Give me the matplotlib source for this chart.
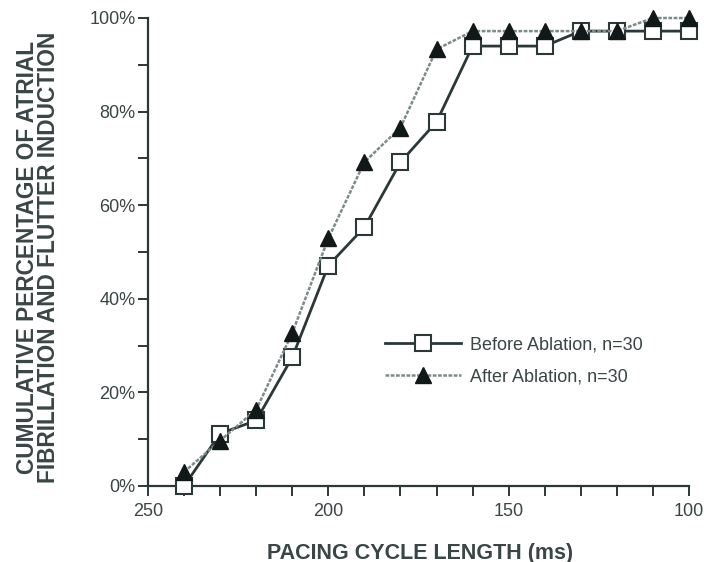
import matplotlib
matplotlib.use("Agg")
import matplotlib.pyplot as plt
from matplotlib.ticker import MultipleLocator, FuncFormatter

cycle_length = [240, 230, 220, 210, 200, 190, 180, 170, 160, 150, 140, 130, 120, 110, 100]
before_pct = [0, 11.2, 14.0, 27.5, 47.1, 55.3, 69.2, 77.8, 94.0, 94.0, 94.0, 97.2, 97.2, 97.2, 97.2]
after_pct = [3.0, 9.7, 16.3, 32.7, 52.9, 69.2, 76.6, 93.3, 97.2, 97.2, 97.2, 97.2, 97.2, 100, 100]

before_label = "Before Ablation, n=30"
after_label = "After Ablation, n=30"
x_label = "PACING CYCLE LENGTH (ms)"
y_label = "CUMULATIVE PERCENTAGE OF ATRIAL\nFIBRILLATION AND FLUTTER INDUCTION"

ink = "#2c3838"
plt.rcParams['font.family'] = ['Liberation Sans', 'DejaVu Sans']

fig = plt.figure(figsize=(7.04, 5.62), dpi=100)
ax = fig.add_axes([148/704, 1 - 486/562, (689-148)/704, (486-18)/562])

ax.plot(cycle_length, before_pct, color=ink, lw=2.0, marker='s', markersize=11.5,
        markerfacecolor='white', markeredgecolor=ink, markeredgewidth=1.5,
        label=before_label, clip_on=False, zorder=3)
ax.plot(cycle_length, after_pct, color='#7f8a8a', lw=1.8, ls=(0, (1.5, 0.6)), marker='^',
        markersize=11, markerfacecolor='#111818', markeredgecolor='#111818',
        label=after_label, clip_on=False, zorder=4)

ax.set_xlim(250, 100)
ax.set_ylim(0, 100)
ax.xaxis.set_major_locator(MultipleLocator(50))
ax.xaxis.set_minor_locator(MultipleLocator(10))
ax.yaxis.set_major_locator(MultipleLocator(20))
ax.yaxis.set_minor_locator(MultipleLocator(10))
ax.yaxis.set_major_formatter(FuncFormatter(lambda v, p: f"{int(round(v))}%"))
ax.xaxis.set_major_formatter(FuncFormatter(lambda v, p: f"{int(round(v))}"))

for s in ['top', 'right']:
    ax.spines[s].set_visible(False)
for s in ['left', 'bottom']:
    ax.spines[s].set_color(ink)
    ax.spines[s].set_linewidth(1.6)

ax.tick_params(which='both', direction='out', length=7, width=1.4, color=ink,
               labelsize=13, labelcolor='#3a4545')
ax.tick_params(axis='x', which='major', pad=5)
ax.tick_params(axis='y', which='major', pad=2)

fig.text(420/704, 1 - 553/562, x_label, ha='center', va='center', fontsize=15.5,
         fontweight='bold', color='#3a4545')
fig.text(38/704, 1 - 257/562, y_label, ha='center', va='center', rotation=90,
         fontsize=16.3, fontweight='bold', color='#3a4545', linespacing=0.88,
         multialignment='center')

leg = ax.legend(loc='upper left', bbox_to_anchor=(385/704, 1 - 336/562),
                bbox_transform=fig.transFigure, frameon=False, fontsize=13,
                handlelength=4.2, handletextpad=0.5, labelspacing=0.85,
                borderpad=0, borderaxespad=0, labelcolor='#3a4545')

fig.savefig("out.png", dpi=100)
